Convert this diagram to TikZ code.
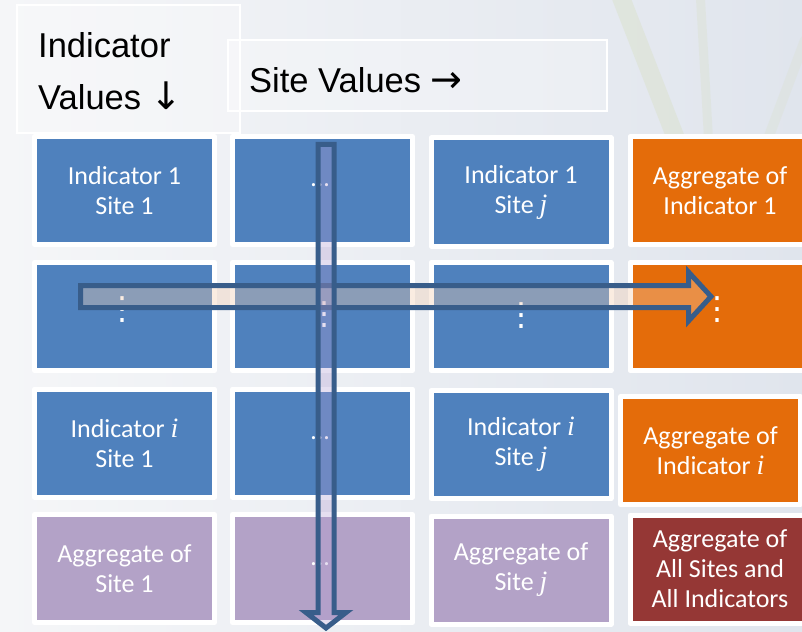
\documentclass[tikz,border=0pt]{standalone}
\usepackage{fontspec}
\usetikzlibrary{calc}
\newfontfamily\tilefont{Carlito}
\newfontfamily\labelfont{Liberation Sans}
\newfontfamily\dejavu{DejaVu Sans}
\newfontfamily\varfont{Liberation Serif}
\newcommand\vari[1]{{\varfont\itshape\fontsize{28}{30}\selectfont #1}}
\newcommand\bigarr[1]{{\dejavu\fontsize{38}{52}\selectfont #1}}
\definecolor{tileblue}{RGB}{79,129,189}
\definecolor{tileorange}{RGB}{228,108,10}
\definecolor{tilepurple}{RGB}{179,162,199}
\definecolor{tilered}{RGB}{149,55,53}
\definecolor{arrowblue}{RGB}{56,93,138}
\definecolor{hfill}{RGB}{244,205,175}
\definecolor{vfill}{RGB}{179,156,210}
\definecolor{bgleft}{RGB}{245,246,248}
\definecolor{bgright}{RGB}{224,229,237}
\definecolor{grass}{RGB}{214,222,190}
\begin{document}
\begin{tikzpicture}[x=1pt,y=-1pt,
  tile/.style={draw=white, line width=5pt, line join=round, minimum width=180pt,
    minimum height=108pt, inner sep=0pt, text=white, align=center,
    font=\tilefont\fontsize{26}{30}\selectfont},
  bluetile/.style={tile, fill=tileblue},
  orangetile/.style={tile, fill=tileorange},
  purpletile/.style={tile, fill=tilepurple},
  redtile/.style={tile, fill=tilered},
  hdots/.style={text=white, inner sep=0pt, font=\tilefont\fontsize{26}{30}\selectfont},
  vdots/.style={text=white, inner sep=0pt, font=\dejavu\fontsize{32}{32}\selectfont},
  lblbox/.style={draw=white, line width=1.5pt, fill=white, fill opacity=0.25},
  lbl/.style={text=black, inner sep=0pt, font=\labelfont\fontsize{34.5}{52}\selectfont},
  blockarrow/.style={draw=arrowblue, line width=5pt, miter limit=10},
  blade/.style={draw=grass, line cap=round, opacity=0.35}
]
\useasboundingbox (0,0) rectangle (802,631);
\clip (0,0) rectangle (802,631);
% background
\shade[left color=bgleft, right color=bgright] (0,0) rectangle (802,631);
\draw[blade, line width=18pt] (618,-10) -- (700,200);
\draw[blade, line width=9pt, opacity=0.25] (700,-10) -- (712,200);
\draw[blade, line width=10pt, opacity=0.2] (805,40) -- (760,160);
% label boxes
\path[lblbox] (17,5) rectangle (240,133);
\path[lblbox] (228,40) rectangle (607,111);
\node[lbl, anchor=north west, align=left] (ind) at (38,32.3) {Indicator\\Values \bigarr{↓}};
\node[lbl, anchor=base west] (site) at (249,93) {Site Values \bigarr{→}};
% tiles
\node[bluetile] (t11) at (124.5,190.5) {Indicator 1\\Site 1};
\node[bluetile] (t12) at (322.5,190.5) {};
\node[bluetile] (t13) at (521,192) {Indicator 1\\Site \vari{j}};
\node[orangetile] (t14) at (720,190.5) {Aggregate of\\Indicator 1};
\node[bluetile] (t21) at (124.5,316.5) {};
\node[bluetile] (t22) at (322.5,316.5) {};
\node[bluetile] (t23) at (521,316.5) {};
\node[orangetile] (t24) at (720,316.5) {};
\node[bluetile] (t31) at (124.5,443) {Indicator \vari{i}\\Site 1};
\node[bluetile] (t32) at (322.5,443) {};
\node[bluetile] (t33) at (521,444.5) {Indicator \vari{i}\\Site \vari{j}};
\node[orangetile] (t34) at (710.5,450.5) {Aggregate of\\Indicator \vari{i}};
\node[purpletile] (t41) at (124.5,568.5) {Aggregate of\\Site 1};
\node[purpletile] (t42) at (322.5,568.5) {};
\node[purpletile] (t43) at (521,570) {Aggregate of\\Site \vari{j}};
\node[redtile] (t44) at (720,569) {Aggregate of\\All Sites and\\All Indicators};
% ellipses
\node[hdots] (e12) at (320,185) {…};
\node[hdots] (e32) at (320,438) {…};
\node[hdots] (e42) at (320,564) {…};
\node[vdots] (v21) at (122,310) {⋮};
\node[vdots] (v22) at (324,315) {⋮};
\node[vdots] (v23) at (521,316) {⋮};
\node[vdots] (v24) at (717,310) {⋮};
% block arrows
\coordinate (hstart) at (80.5,296.5);
\coordinate (htip) at (711,296.5);
\filldraw[blockarrow, fill=hfill, fill opacity=0.37]
  ($(hstart)+(0,-11)$) -- (688.5,285.5) -- (688.5,272) -- (htip)
  -- (688.5,321) -- (688.5,307.5) -- ($(hstart)+(0,11)$) -- cycle;
\coordinate (vstart) at (326,144.5);
\coordinate (vtip) at (326,628);
\filldraw[blockarrow, fill=vfill, fill opacity=0.33]
  ($(vstart)+(-8,0)$) -- ($(vstart)+(8,0)$) -- (334,612.5) -- (346,612.5) -- (vtip)
  -- (306,612.5) -- (318,612.5) -- cycle;
\end{tikzpicture}
\end{document}
